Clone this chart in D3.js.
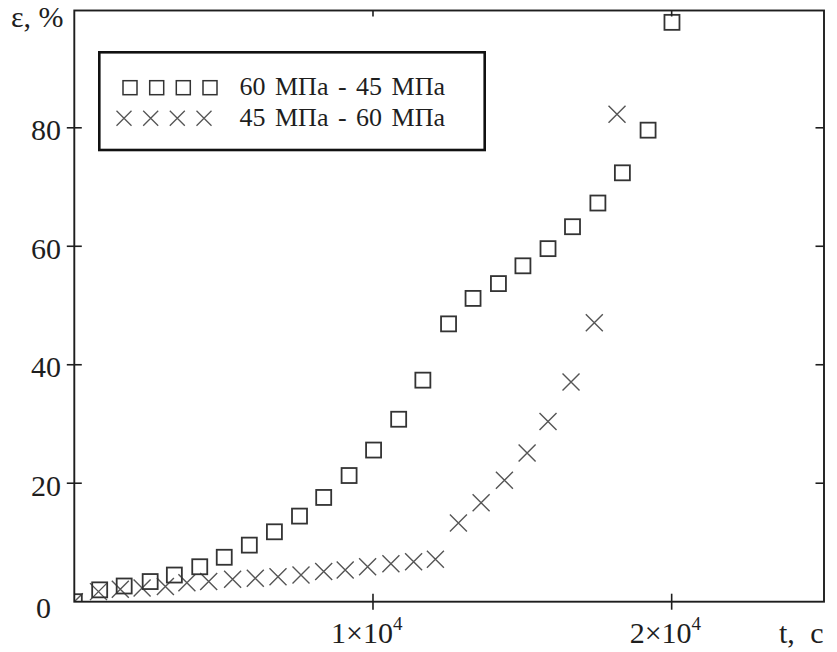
<!DOCTYPE html>
<html>
<head>
<meta charset="utf-8">
<script src="https://cdn.jsdelivr.net/npm/d3@7"></script>
<style>
  html, body { margin: 0; padding: 0; background: #fff; }
  svg { display: block; }
  text { font-family: "Liberation Serif", "Times New Roman", serif; fill: #1e1e1e; }
</style>
</head>
<body>
<svg id="chart" width="837" height="652"></svg>
<script>
// Creep strain ε (%) versus time t (s) for two stepped-load sequences
const seriesNames = ["60 МПа - 45 МПа", "45 МПа - 60 МПа"];

// 60 МПа → 45 МПа (squares)
const tDown = [0, 850, 1670, 2540, 3350, 4200, 5020, 5860, 6700, 7540, 8350, 9200,
               10020, 10860, 11670, 12530, 13350, 14200, 15020, 15860, 16680, 17530, 18350, 19210, 20010];
const epsDown = [0, 2.0, 2.65, 3.4, 4.5, 5.9, 7.5, 9.55, 11.8, 14.45, 17.6, 21.3,
                 25.6, 30.8, 37.4, 46.9, 51.2, 53.7, 56.7, 59.6, 63.3, 67.3, 72.4, 79.6, 97.8];

// 45 МПа → 60 МПа (crosses)
const tUp = [0, 810, 1540, 2270, 3050, 3770, 4500, 5300, 6060, 6820, 7590, 8350,
             9070, 9820, 10600, 11360, 12090, 12860, 13620, 14400, 15160, 15860, 16630, 17410, 18170];
const epsUp = [0, 1.7, 2.1, 2.3, 2.55, 3.2, 3.4, 3.8, 3.95, 4.2, 4.5, 5.1,
               5.35, 5.9, 6.4, 6.75, 7.15, 13.3, 16.7, 20.5, 25.1, 30.4, 37.1, 47.1, 82.3];

const yTicks = [0, 20, 40, 60, 80];
const xTicks = [10000, 20000];
const xTickLabels = [["1×10", "4"], ["2×10", "4"]];
const yAxisTitle = "ε, %";
const xAxisTitle = "t, c";

const svg = d3.select("#chart");
const plot = { left: 74.3, right: 824, top: 10.5, bottom: 601.7 };

const x = d3.scaleLinear().domain([0, 25100]).range([plot.left, plot.right]);
const y = d3.scaleLinear().domain([0, 99.8]).range([plot.bottom, plot.top]);

svg.append("defs").append("clipPath").attr("id", "plotClip")
  .append("rect")
  .attr("x", plot.left).attr("y", plot.top)
  .attr("width", plot.right - plot.left).attr("height", plot.bottom - plot.top);

// Markers
const sq = 15;   // square side
const cx = 8.5;  // cross half-size

const marks = svg.append("g").attr("clip-path", "url(#plotClip)");

const downData = tDown.map((t, i) => ({ t, e: epsDown[i] }));
const upData = tUp.map((t, i) => ({ t, e: epsUp[i] }));

marks.append("g").selectAll("path").data(upData).join("path")
  .attr("d", d => {
    const px = x(d.t), py = y(d.e);
    return `M${px - cx},${py - cx}L${px + cx},${py + cx}M${px - cx},${py + cx}L${px + cx},${py - cx}`;
  })
  .attr("fill", "none").attr("stroke", "#555").attr("stroke-width", 1.4);

marks.append("g").selectAll("rect").data(downData).join("rect")
  .attr("x", d => x(d.t) - sq / 2).attr("y", d => y(d.e) - sq / 2)
  .attr("width", sq).attr("height", sq)
  .attr("fill", "none").attr("stroke", "#333").attr("stroke-width", 1.8);

// Frame
svg.append("rect")
  .attr("x", plot.left).attr("y", plot.top)
  .attr("width", plot.right - plot.left).attr("height", plot.bottom - plot.top)
  .attr("fill", "none").attr("stroke", "#1e1e1e").attr("stroke-width", 1.9);

// Ticks: crossing on left/bottom, inward on right/top
const tickG = svg.append("g").attr("stroke", "#1e1e1e").attr("stroke-width", 1.6);
yTicks.filter(v => v > 0).forEach(v => {
  tickG.append("line").attr("x1", plot.left - 7.5).attr("x2", plot.left + 7.5)
    .attr("y1", y(v)).attr("y2", y(v));
  tickG.append("line").attr("x1", plot.right - 8.5).attr("x2", plot.right)
    .attr("y1", y(v)).attr("y2", y(v));
});
xTicks.forEach(v => {
  tickG.append("line").attr("x1", x(v)).attr("x2", x(v))
    .attr("y1", plot.bottom - 8).attr("y2", plot.bottom + 8);
  tickG.append("line").attr("x1", x(v)).attr("x2", x(v))
    .attr("y1", plot.top).attr("y2", plot.top + 6);
});

// Y tick labels
svg.append("g").selectAll("text").data(yTicks).join("text")
  .attr("x", d => d === 0 ? 51 : 61)
  .attr("y", d => d === 0 ? y(d) + 6 : y(d) + 2)
  .attr("dy", "0.35em")
  .attr("text-anchor", "end")
  .attr("font-size", 30)
  .text(d => d);

// X tick labels with superscript exponent
xTicks.forEach((v, i) => {
  const t = svg.append("text")
    .attr("x", x(v) - 42).attr("y", 643)
    .attr("font-size", 30);
  t.append("tspan").text(xTickLabels[i][0]);
  t.append("tspan").attr("dy", -13).attr("font-size", 19).text(xTickLabels[i][1]);
});

// Axis titles
svg.append("text").attr("x", 11).attr("y", 27).attr("font-size", 30).text(yAxisTitle);
svg.append("text").attr("x", 779).attr("y", 643).attr("font-size", 30)
  .attr("word-spacing", 8).text(xAxisTitle);

// Legend
const legend = svg.append("g");
legend.append("rect")
  .attr("x", 99.3).attr("y", 52.3).attr("width", 385.4).attr("height", 97.7)
  .attr("fill", "#fff").attr("stroke", "#111").attr("stroke-width", 2.6);

const lsq = 14;
[130, 156.7, 183.3, 210].forEach(px => {
  legend.append("rect")
    .attr("x", px - lsq / 2).attr("y", 87.7 - lsq / 2)
    .attr("width", lsq).attr("height", lsq)
    .attr("fill", "none").attr("stroke", "#333").attr("stroke-width", 1.5);
});
const lcx = 7.5;
[124, 150.7, 177.3, 204].forEach(px => {
  const py = 118.3;
  legend.append("path")
    .attr("d", `M${px - lcx},${py - lcx}L${px + lcx},${py + lcx}M${px - lcx},${py + lcx}L${px + lcx},${py - lcx}`)
    .attr("fill", "none").attr("stroke", "#555").attr("stroke-width", 1.3);
});
[95, 126].forEach((by, i) => {
  legend.append("text")
    .attr("x", 239.5).attr("y", by)
    .attr("font-size", 26)
    .attr("word-spacing", 3)
    .text(seriesNames[i]);
});
</script>
</body>
</html>
